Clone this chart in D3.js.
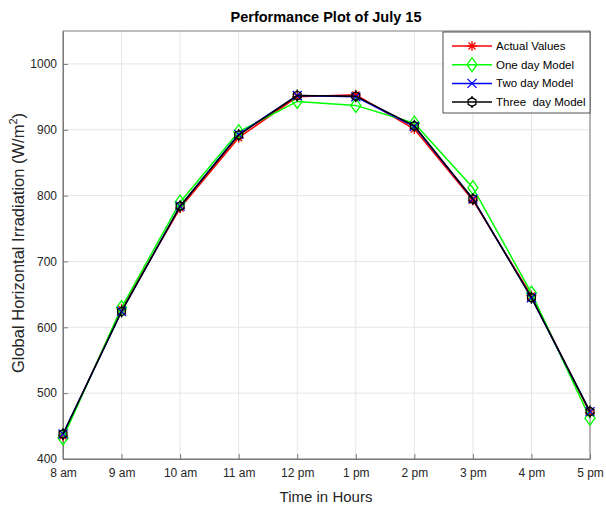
<!DOCTYPE html>
<html><head><meta charset="utf-8">
<script src="https://cdn.jsdelivr.net/npm/d3@7"></script>
<style>
body{margin:0;background:#fff;}
text{font-family:"Liberation Sans",Arial,Helvetica,sans-serif;}
</style></head>
<body><svg id="c" width="606" height="508"></svg>
<script>
const hours = ["8 am","9 am","10 am","11 am","12 pm","1 pm","2 pm","3 pm","4 pm","5 pm"];
const actualValues = [435, 628, 781, 888, 950, 953, 901, 793, 648, 470];
const oneDayModel  = [432, 630, 790, 897, 943, 937, 910, 812, 652, 462];
const twoDayModel  = [438, 624, 784, 893, 952, 950, 905, 795, 645, 472];
const threeDayModel= [438, 624, 784, 892, 952, 951, 906, 795, 645, 472];
const yTicks = [400, 500, 600, 700, 800, 900, 1000];
const seriesNames = ["Actual Values","One day Model","Two day Model","Three  day Model"];

const svg = d3.select("#c");
const L = 63, R = 590, T = 31, B = 459;
const x = d3.scalePoint().domain(hours).range([L, R]);
const y = d3.scaleLinear().domain([400, 1050]).range([B, T]);

const series = [
  {name: seriesNames[0], values: actualValues, color: "#ff0000", marker: "star"},
  {name: seriesNames[1], values: oneDayModel, color: "#00ff00", marker: "diamond"},
  {name: seriesNames[2], values: twoDayModel, color: "#0000ff", marker: "x"},
  {name: seriesNames[3], values: threeDayModel, color: "#000000", marker: "hex"}
];

// grid
const g = svg.append("g");
g.selectAll("line.gy").data(yTicks).enter().append("line")
  .attr("x1", L).attr("x2", R).attr("y1", d => y(d)).attr("y2", d => y(d))
  .attr("stroke", "#e6e6e6").attr("stroke-width", 1);
g.selectAll("line.gx").data(hours).enter().append("line")
  .attr("x1", d => x(d)).attr("x2", d => x(d)).attr("y1", T).attr("y2", B)
  .attr("stroke", "#e6e6e6").attr("stroke-width", 1);

// box
svg.append("rect").attr("x", L).attr("y", T).attr("width", R - L).attr("height", B - T)
  .attr("fill", "none").attr("stroke", "#7a7a7a").attr("stroke-width", 1);

// axes
const xAxis = svg.append("g").attr("transform", `translate(0,${B})`)
  .call(d3.axisBottom(x).tickSizeInner(-5).tickSizeOuter(0).tickPadding(9));
const yAxis = svg.append("g").attr("transform", `translate(${L},0)`)
  .call(d3.axisLeft(y).tickValues(yTicks).tickSizeInner(-5).tickSizeOuter(0).tickPadding(6).tickFormat(d3.format("d")));
[xAxis, yAxis].forEach(a => {
  a.select(".domain").attr("stroke", "#7a7a7a");
  a.selectAll(".tick line").attr("stroke", "#7a7a7a");
  a.selectAll(".tick text").attr("fill", "#262626").attr("font-size", 12)
    .attr("font-family", "'Liberation Sans',Arial,sans-serif");
});

// marker drawing
function drawMarker(sel, type, color) {
  const s = 5;
  if (type === "star") {
    sel.append("path").attr("d", `M${-s},0H${s}M0,${-s}V${s}M${-s*0.7},${-s*0.7}L${s*0.7},${s*0.7}M${-s*0.7},${s*0.7}L${s*0.7},${-s*0.7}`)
      .attr("stroke", color).attr("stroke-width", 1.3).attr("fill", "none");
  } else if (type === "diamond") {
    sel.append("path").attr("d", `M0,${-7}L${5},0L0,${7}L${-5},0Z`)
      .attr("stroke", color).attr("stroke-width", 1.3).attr("fill", "none");
  } else if (type === "x") {
    sel.append("path").attr("d", `M${-4.5},${-4.5}L${4.5},${4.5}M${-4.5},${4.5}L${4.5},${-4.5}`)
      .attr("stroke", color).attr("stroke-width", 1.3).attr("fill", "none");
  } else {
    const pts = d3.range(6).map(i => {
      const a = Math.PI / 6 + i * Math.PI / 3;
      return [4.5 * Math.cos(a), 4.5 * Math.sin(a)];
    });
    sel.append("path").attr("d", "M" + pts.map(p => p.join(",")).join("L") + "Z")
      .attr("stroke", color).attr("stroke-width", 1.3).attr("fill", "none");
    sel.append("path").attr("d", "M0,-6V-3M0,3V6")
      .attr("stroke", color).attr("stroke-width", 1.3);
  }
}

const line = d3.line().x((d, i) => x(hours[i])).y(d => y(d));
series.forEach(s => {
  svg.append("path").datum(s.values).attr("d", line)
    .attr("fill", "none").attr("stroke", s.color).attr("stroke-width", 1.5);
  svg.append("g").selectAll("g").data(s.values).enter().append("g")
    .attr("transform", (d, i) => `translate(${x(hours[i])},${y(d)})`)
    .each(function () { drawMarker(d3.select(this), s.marker, s.color); });
});

// legend
const lg = svg.append("g");
lg.append("rect").attr("x", 443).attr("y", 32).attr("width", 147).attr("height", 81)
  .attr("fill", "#fff").attr("stroke", "#262626").attr("stroke-width", 0.8);
series.forEach((s, i) => {
  const yy = 46 + i * 18.7;
  lg.append("line").attr("x1", 452).attr("x2", 492).attr("y1", yy).attr("y2", yy)
    .attr("stroke", s.color).attr("stroke-width", 1.5);
  drawMarker(lg.append("g").attr("transform", `translate(472,${yy})`), s.marker, s.color);
  lg.append("text").attr("x", 496).attr("y", yy + 4).attr("font-size", 11.5)
    .attr("fill", "#000").text(s.name).style("white-space", "pre");
});

// title and labels
svg.append("text").attr("x", 326).attr("y", 22).attr("text-anchor", "middle")
  .attr("font-size", 14.5).attr("font-weight", "bold").attr("fill", "#000")
  .text("Performance Plot of July 15");
svg.append("text").attr("x", 326).attr("y", 502).attr("text-anchor", "middle")
  .attr("font-size", 15).attr("fill", "#262626").text("Time in Hours");
const yl = svg.append("text").attr("transform", `translate(24,243) rotate(-90)`)
  .attr("text-anchor", "middle").attr("font-size", 16.5).attr("fill", "#262626");
yl.append("tspan").text("Global Horizontal Irradiation (W/m");
yl.append("tspan").attr("dy", -7).attr("font-size", 11).text("2");
yl.append("tspan").attr("dy", 7).text(")");
</script></body></html>
